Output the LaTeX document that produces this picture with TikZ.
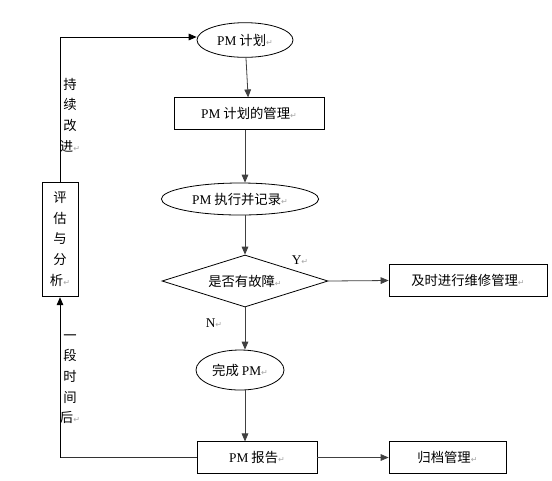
\documentclass[tikz,border=0pt]{standalone}
\usepackage{fontspec}
\setmainfont{Liberation Serif}
\newfontfamily\cjk{Noto Sans CJK SC}
\newfontfamily\symf{DejaVu Sans}
\usetikzlibrary{arrows.meta,shapes.geometric}
\newcommand{\pmark}{{\symf\color{black!35}\fontsize{6}{6}\selectfont ↵}}
\begin{document}
\begin{tikzpicture}[x=0.75pt,y=-0.75pt,
  every node/.style={font=\fontsize{10}{12}\selectfont\cjk, inner sep=0pt},
  boxs/.style={draw, line width=0.6pt, minimum width=#1*0.75pt, minimum height=23.5pt},
  ell/.style={draw, ellipse, line width=0.6pt},
  arr/.style={-{Triangle[length=6pt,width=5pt]}, line width=0.6pt, black!75},
  lin/.style={line width=0.6pt, black!80},
  vtext/.style={align=center, font=\fontsize{10}{15.5}\selectfont\cjk}]
\useasboundingbox (0,0) rectangle (552,480);
\fill[white] (0,0) rectangle (552,480);
% nodes
\node[ell, minimum width=72pt, minimum height=26pt] (plan) at (245,40) {{\rmfamily PM} 计划\pmark};
\node[boxs=150] (mgmt) at (249,113.5) {{\rmfamily PM} 计划的管理\pmark};
\node[ell, minimum width=118pt, minimum height=24pt] (exec) at (240,199) {{\rmfamily PM} 执行并记录\pmark};
\node[draw, diamond, aspect=3.2, line width=0.6pt, minimum width=124.5pt, minimum height=39pt] (dec) at (245,281) {是否有故障\pmark};
\node[boxs=158] (repair) at (468,280.5) {及时进行维修管理\pmark};
\node[ell, minimum width=66pt, minimum height=30pt] (done) at (240,370) {完成 {\rmfamily PM}\pmark};
\node[boxs=120] (report) at (257,457.5) {{\rmfamily PM} 报告\pmark};
\node[boxs=117] (archive) at (447.5,457.5) {归档管理\pmark};
\node[draw, line width=0.6pt, minimum width=27pt, minimum height=86pt] (eval) at (60,239.5) {};
\node[vtext] (evaltxt) at (60,239) {评\\估\\与\\分\\析\pmark};
\node[vtext] (cont) at (70,115) {持\\续\\改\\进\pmark};
\node[vtext] (after) at (70,379) {一\\段\\时\\间\\后\pmark};
\node[font=\fontsize{10}{12}\selectfont\rmfamily] (ylab) at (300,260) {Y\pmark};
\node[font=\fontsize{10}{12}\selectfont\rmfamily] (nlab) at (214,323) {N\pmark};
\coordinate (tl) at (60,37);
\coordinate (bl) at (60,457.5);
% connectors
\draw[arr] (plan) -- (mgmt);
\draw[arr] (mgmt.south -| 245,0) -- (exec.north -| 245,0);
\draw[arr] (exec.south -| 245,0) -- (dec.north);
\draw[arr] (dec.east) -- (repair.west);
\draw[arr] (dec.south) -- (done.north -| 245,0);
\draw[arr] (done.south -| 245,0) -- (report.north -| 245,0);
\draw[arr] (report.east) -- (archive.west);
\draw[lin] (report.west) -- (bl);
\draw[arr, black] (bl) -- (eval.south);
\draw[lin, black] (eval.north) -- (tl);
\draw[arr, black] (tl) -- (plan.west |- tl);
\end{tikzpicture}
\end{document}
